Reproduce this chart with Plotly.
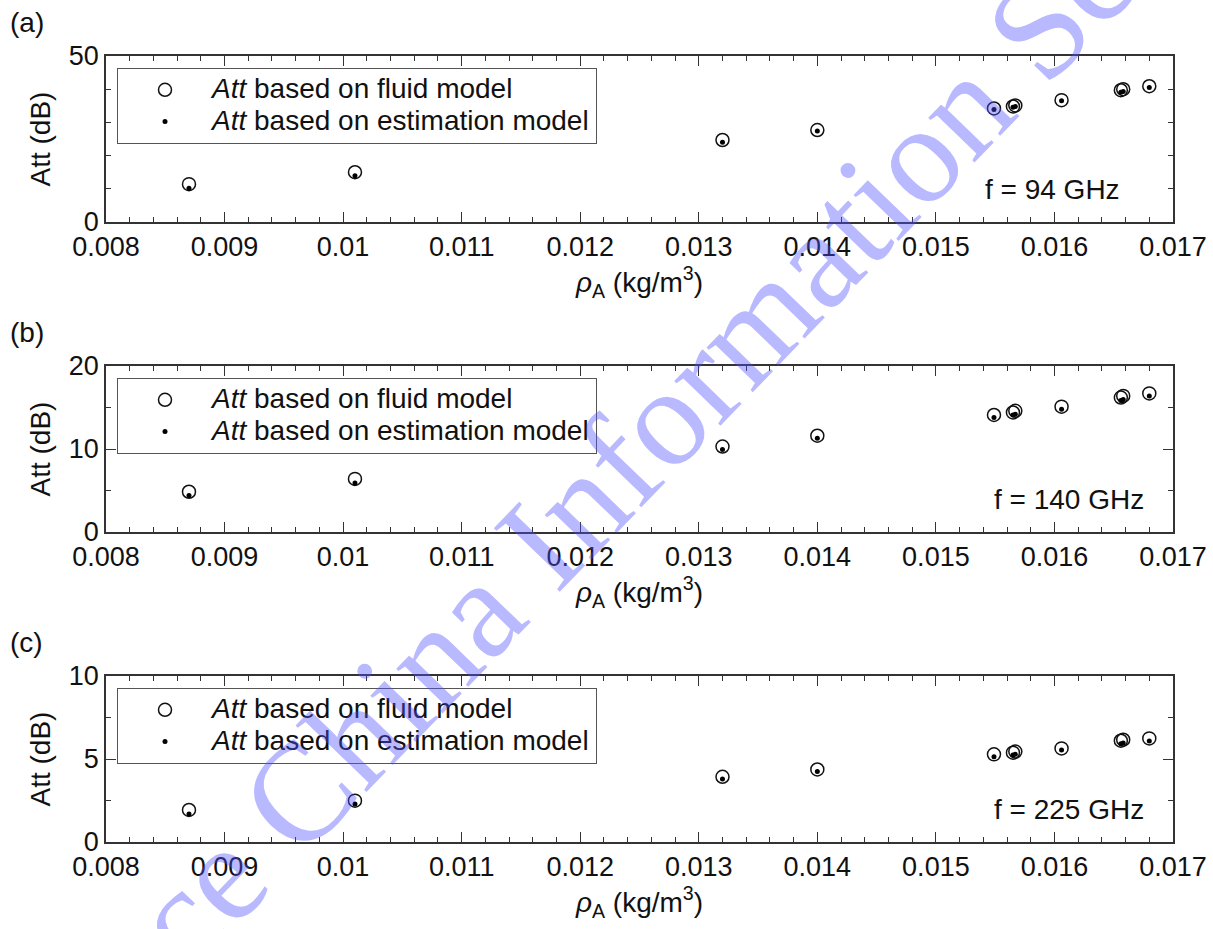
import plotly.graph_objects as go

# ---------------- data ----------------
rho = [0.0087, 0.0101, 0.0132, 0.0140, 0.01549, 0.01565, 0.01567,
       0.01606, 0.01656, 0.01658, 0.01680]

att_fluid_94 = [11.4, 15.0, 24.7, 27.7, 34.2, 34.8, 35.1, 36.7, 39.7, 40.0, 40.9]
att_est_94 = [10.2, 13.9, 24.0, 27.4, 33.9, 34.6, 34.8, 36.5, 39.1, 39.3, 40.5]

att_fluid_140 = [4.85, 6.4, 10.3, 11.6, 14.1, 14.4, 14.6, 15.1, 16.2, 16.4, 16.7]
att_est_140 = [4.4, 5.9, 9.95, 11.3, 13.8, 14.1, 14.2, 14.8, 15.85, 15.95, 16.4]

att_fluid_225 = [1.93, 2.49, 3.93, 4.37, 5.28, 5.38, 5.45, 5.64, 6.10, 6.16, 6.24]
att_est_225 = [1.69, 2.29, 3.79, 4.24, 5.14, 5.24, 5.28, 5.54, 5.92, 5.96, 6.08]

x_tickvals = [0.008, 0.009, 0.010, 0.011, 0.012, 0.013, 0.014, 0.015, 0.016, 0.017]
x_ticktext = ["0.008", "0.009", "0.01", "0.011", "0.012", "0.013", "0.014",
              "0.015", "0.016", "0.017"]

panel_labels = ["(a)", "(b)", "(c)"]
freq_labels = ["f = 94 GHz", "f = 140 GHz", "f = 225 GHz"]
y_ranges = [[0, 50], [0, 20], [0, 10]]
y_tickvals = [[0, 50], [0, 10, 20], [0, 5, 10]]
y_minor = [10, 5, 2.5]
fluid_series = [att_fluid_94, att_fluid_140, att_fluid_225]
est_series = [att_est_94, att_est_140, att_est_225]

name_fluid = '<span style="font-size:28px"><i>Att</i> based on fluid model</span>'
name_est = '<span style="font-size:28px"><i>Att</i> based on estimation model</span>'
x_title = "<i>ρ</i><sub>A</sub> (kg/m<sup>3</sup>)"
y_title = "Att (dB)"
watermark = "Science China Information Sciences"

# ---------------- layout geometry ----------------
W, H = 1213, 929
FONT = "Liberation Sans, Arial, Helvetica, sans-serif"
FS_TICK = 27
FS_TXT = 28
x_dom = [106 / W, 1173 / W]
tops = [56, 366, 676]
bottoms = [222, 532, 842]
TXT = "#111111"
axis_color = "#333333"

fig = go.Figure()
layout = dict(
    width=W, height=H,
    margin=dict(l=0, r=0, t=0, b=0, autoexpand=False),
    paper_bgcolor="white", plot_bgcolor="white",
    font=dict(family=FONT, size=FS_TICK, color=TXT),
    showlegend=True,
    annotations=[],
)

for i in range(3):
    n = "" if i == 0 else str(i + 1)
    xa, ya = "x" + n, "y" + n
    lg = "legend" + n
    fig.add_trace(go.Scatter(
        x=rho, y=fluid_series[i], mode="markers", name=name_fluid,
        marker=dict(symbol="circle-open", size=13, color=TXT,
                    line=dict(width=1.5, color=TXT)),
        xaxis=xa, yaxis=ya, legend=lg, cliponaxis=False))
    fig.add_trace(go.Scatter(
        x=rho, y=est_series[i], mode="markers", name=name_est,
        marker=dict(symbol="circle", size=5, color="#000000"),
        xaxis=xa, yaxis=ya, legend=lg, cliponaxis=False))

    y_dom = [1 - bottoms[i] / H, 1 - tops[i] / H]
    layout["xaxis" + n] = dict(
        domain=x_dom, anchor=ya, range=[0.008, 0.017], automargin=False,
        tickmode="array", tickvals=x_tickvals, ticktext=x_ticktext,
        ticks="inside", ticklen=10, tickwidth=1.2, tickcolor=axis_color,
        minor=dict(dtick=0.0002, tick0=0.008, ticks="inside", ticklen=5,
                   tickwidth=1.2, tickcolor=axis_color, showgrid=False),
        showline=True, linecolor=axis_color, linewidth=1.5, mirror="ticks",
        showgrid=False, zeroline=False,
        tickfont=dict(size=FS_TICK, family=FONT, color=TXT),
        title=dict(text=x_title, font=dict(size=FS_TXT, family=FONT, color=TXT),
                   standoff=8),
    )
    layout["yaxis" + n] = dict(
        domain=y_dom, anchor=xa, range=y_ranges[i], automargin=False,
        tickmode="array", tickvals=y_tickvals[i],
        ticks="inside", ticklen=10, tickwidth=1.2, tickcolor=axis_color,
        minor=dict(dtick=y_minor[i], tick0=0, ticks="inside", ticklen=5,
                   tickwidth=1.2, tickcolor=axis_color, showgrid=False),
        showline=True, linecolor=axis_color, linewidth=1.5, mirror="ticks",
        showgrid=False, zeroline=False,
        tickfont=dict(size=FS_TICK, family=FONT, color=TXT),
        title=dict(text=y_title, font=dict(size=FS_TXT, family=FONT, color=TXT),
                   standoff=10),
    )
    layout[lg] = dict(
        x=117 / W, y=1 - (tops[i] + 12) / H, xanchor="left", yanchor="top",
        xref="paper", yref="paper",
        bgcolor="white", bordercolor="#555555", borderwidth=1,
        font=dict(size=22, family=FONT, color=TXT),
        itemwidth=84, tracegroupgap=0, traceorder="normal",
    )
    layout["annotations"].append(dict(
        text=panel_labels[i], xref="paper", yref="paper",
        x=8 / W, y=1 - (tops[i] - 34) / H, xanchor="left", yanchor="middle",
        showarrow=False, font=dict(size=FS_TXT, family=FONT, color=TXT)))
    layout["annotations"].append(dict(
        text=freq_labels[i], xref="paper", yref="paper",
        x=(1122 if i == 0 else 1146) / W, y=1 - (bottoms[i] - 33) / H,
        xanchor="right", yanchor="middle",
        showarrow=False, font=dict(size=FS_TXT, family=FONT, color=TXT)))

layout["annotations"].append(dict(
    text=watermark, xref="paper", yref="paper",
    x=645 / W, y=1 - 436 / H, xanchor="center", yanchor="middle",
    textangle=-46, showarrow=False,
    font=dict(size=140, family="Liberation Serif, Times New Roman, serif",
              color="rgba(80,80,255,0.4)")))

fig.update_layout(**layout)
fig.write_html("out.html")
